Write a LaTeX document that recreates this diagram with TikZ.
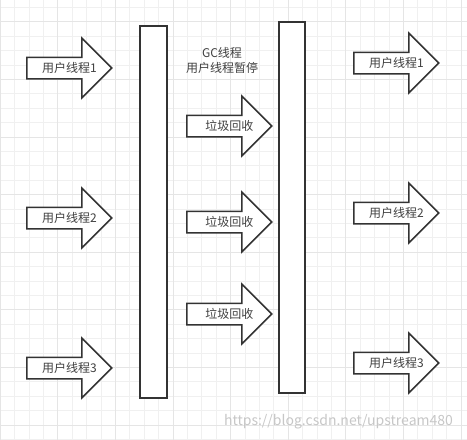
\documentclass[tikz,border=0pt]{standalone}
\usepackage{fontspec}
\setmainfont{Noto Sans CJK SC}
\usetikzlibrary{shapes.arrows,positioning,calc}

\begin{document}
\begin{tikzpicture}[x=1pt,y=-1pt,
  thread/.style={shape=single arrow, draw=black!80, line width=1.5pt, fill=white,
    single arrow head extend=19pt, single arrow tip angle=90, minimum height=85pt,
    inner xsep=0pt, inner ysep=4.5pt, text height=9pt, text depth=2pt, anchor=tail},
  threadtext/.style={font=\fontsize{12}{14}\selectfont, text=black!75, inner sep=0pt},
  bar/.style={draw=black!80, line width=1.5pt, fill=white, inner sep=0pt}]
% background grid
\fill[white] (0,0) rectangle (467,440);
\useasboundingbox (0,0) rectangle (467,440);
\foreach \i in {0,...,32} {
  \draw[black!6, line width=0.6pt] (\i*14.4,0) -- (\i*14.4,440);
}
\foreach \j in {0,...,30} {
  \draw[black!6, line width=0.6pt] (0,7.2+\j*14.4) -- (467,7.2+\j*14.4);
}
\foreach \i in {0,...,8} {
  \draw[black!10, line width=0.6pt] (\i*57.6,0) -- (\i*57.6,440);
}
\foreach \j in {0,...,7} {
  \draw[black!10, line width=0.6pt] (0,21.6+\j*57.6) -- (467,21.6+\j*57.6);
}
% the two stop points
\node[bar, minimum width=27pt, minimum height=372pt] (stop1) at (153.5,212) {};
\node[bar, minimum width=26pt, minimum height=371pt] (stop2) at (292,207.5) {};
% user threads before
\node[thread] (user1a) at (26,68) {};
\node[thread] (user2a) at (26,218) {};
\node[thread] (user3a) at (26,368) {};
\node[threadtext] (user1atext) at ($(user1a.tail)!.5!(user1a.tip)$) {用户线程1};
\node[threadtext] (user2atext) at ($(user2a.tail)!.5!(user2a.tip)$) {用户线程2};
\node[threadtext] (user3atext) at ($(user3a.tail)!.5!(user3a.tip)$) {用户线程3};
% gc threads
\node[threadtext, align=center, font=\fontsize{12}{15}\selectfont] (gclabel) at (222,60) {GC线程\\用户线程暂停};
\node[thread] (gc1) at (186,126) {};
\node[thread] (gc2) at (186,222) {};
\node[thread] (gc3) at (186,314) {};
\node[threadtext] (gc1text) at ($(gc1.tail)!.5!(gc1.tip)$) {垃圾回收};
\node[threadtext] (gc2text) at ($(gc2.tail)!.5!(gc2.tip)$) {垃圾回收};
\node[threadtext] (gc3text) at ($(gc3.tail)!.5!(gc3.tip)$) {垃圾回收};
% user threads after
\node[thread] (user1b) at (353,63) {};
\node[thread] (user2b) at (353,213) {};
\node[thread] (user3b) at (353,363) {};
\node[threadtext] (user1btext) at ($(user1b.tail)!.5!(user1b.tip)$) {用户线程1};
\node[threadtext] (user2btext) at ($(user2b.tail)!.5!(user2b.tip)$) {用户线程2};
\node[threadtext] (user3btext) at ($(user3b.tail)!.5!(user3b.tip)$) {用户线程3};
\node[font=\fontsize{14}{16}\selectfont, text=black!22] (mark) at (338.5,422) {https://blog.csdn.net/upstream480};
\end{tikzpicture}
\end{document}
